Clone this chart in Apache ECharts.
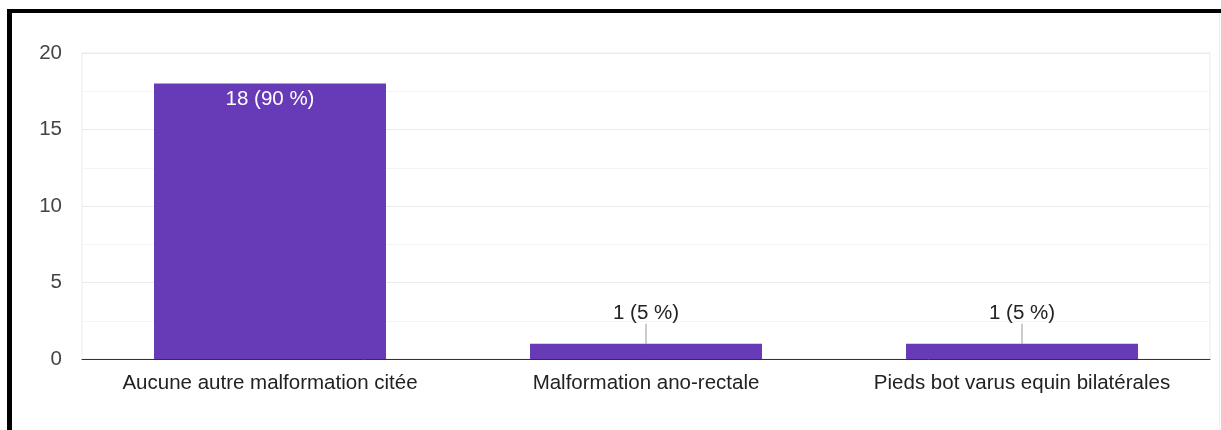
<!DOCTYPE html>
<html>
<head>
<meta charset="utf-8">
<script src="https://cdn.jsdelivr.net/npm/echarts@6/dist/echarts.min.js"></script>
<style>
  html, body { margin: 0; padding: 0; background: #fff; }
  #wrap { position: relative; width: 1221px; height: 430px; overflow: hidden; }
  #frame {
    position: absolute; left: 7px; top: 9px; width: 1300px; height: 500px;
    border-top: 4px solid #000; border-left: 5px solid #000;
  }
  #edge { position: absolute; left: 1219px; top: 13px; width: 1px; height: 420px; background: #eeeeee; }
  #chart { position: absolute; left: 0; top: 0; width: 1221px; height: 430px; }
</style>
</head>
<body>
<div id="wrap">
  <div id="frame"></div>
  <div id="edge"></div>
  <div id="chart"></div>
</div>
<script>
// Réponses comptées par catégorie
const categories = [
  'Aucune autre malformation citée',
  'Malformation ano-rectale',
  'Pieds bot varus equin bilatérales'
];
const counts = [18, 1, 1];
const percents = [90, 5, 5];
const yTicks = [0, 5, 10, 15, 20];

const font = 'Arial, "Liberation Sans", sans-serif';
const purple = '#673ab7';

const data = counts.map(function (v, i) {
  const inside = v > 5;
  return {
    value: v,
    label: inside
      ? { position: 'insideTop', distance: 5, color: '#ffffff' }
      : { position: 'top', distance: 5, color: '#222222' }
  };
});

const chart = echarts.init(document.getElementById('chart'), null, { renderer: 'canvas' });
chart.setOption({
  animation: false,
  grid: {
    left: 82, right: 11, top: 53, bottom: 71,
    show: true, borderColor: '#ebebeb', borderWidth: 1, backgroundColor: 'transparent'
  },
  xAxis: {
    type: 'category',
    data: categories,
    axisLine: { show: true, lineStyle: { color: '#333333', width: 1 } },
    axisTick: { show: false },
    axisLabel: { color: '#222222', fontSize: 20.5, fontFamily: font, margin: 14, interval: 0 },
    splitLine: { show: false }
  },
  yAxis: {
    type: 'value',
    min: yTicks[0],
    max: yTicks[yTicks.length - 1],
    interval: 5,
    axisLine: { show: false },
    axisTick: { show: false },
    axisLabel: { color: '#444444', fontSize: 20.5, fontFamily: font, margin: 20 },
    splitLine: { lineStyle: { color: '#ebebeb', width: 1 } },
    minorTick: { show: false, splitNumber: 2 },
    minorSplitLine: { show: true, lineStyle: { color: '#f4f4f4', width: 1 } }
  },
  series: [{
    type: 'bar',
    data: data,
    barWidth: '61.7%',
    itemStyle: { color: purple },
    label: {
      show: true,
      fontSize: 20.5,
      fontFamily: font,
      formatter: function (p) { return p.value + ' (' + percents[p.dataIndex] + ' %)'; }
    },
    labelLayout: function (p) {
      return counts[p.dataIndex] > 5 ? {} : { dy: -15 };
    },
    labelLine: { show: true, lineStyle: { color: '#999999', width: 1 } }
  }]
});
</script>
</body>
</html>
